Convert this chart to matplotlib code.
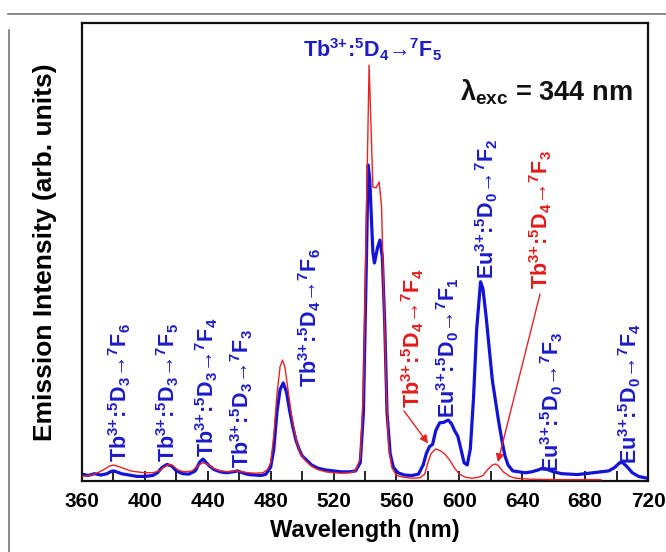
import matplotlib
matplotlib.use("Agg")
import matplotlib.pyplot as plt
from matplotlib.lines import Line2D

plt.rcParams['font.family'] = ['Liberation Sans', 'DejaVu Sans']
plt.rcParams['font.weight'] = 'bold'
plt.rcParams['mathtext.default'] = 'regular'

# ---- data (wavelength in nm, intensity in arbitrary units, 0..1 of frame) ----
blue_wl = [360, 364, 368, 372, 376, 378, 380, 382, 385, 390, 395, 400, 405, 408, 411, 414, 417,
           420, 424, 428, 432, 435, 437, 439, 441, 444, 448, 452, 456, 459, 462, 466, 470, 474,
           477, 480, 482, 484, 486, 488, 490, 492, 494, 496, 498, 500, 503, 506, 510, 515, 520,
           525, 530, 534, 537, 539, 541, 542, 543, 545, 546, 548, 549.5, 551, 552.5, 554, 556,
           558, 561, 565, 570, 574, 577, 579, 581, 583, 585, 587.5, 590, 593, 595, 597, 599,
           601, 603, 605, 607, 609, 611, 613.5, 615, 617, 619, 621, 623, 625, 627, 629, 631,
           634, 638, 642, 646, 650, 653, 656, 660, 665, 670, 675, 680, 685, 690, 695, 699, 702,
           704, 707, 710, 714, 718, 720]
blue_int = [0.015, 0.012, 0.016, 0.013, 0.016, 0.020, 0.022, 0.020, 0.016, 0.013, 0.010, 0.010,
            0.012, 0.018, 0.030, 0.036, 0.033, 0.022, 0.016, 0.015, 0.022, 0.042, 0.048, 0.040,
            0.033, 0.025, 0.020, 0.018, 0.020, 0.022, 0.018, 0.014, 0.013, 0.012, 0.015, 0.030,
            0.070, 0.150, 0.200, 0.214, 0.195, 0.155, 0.120, 0.090, 0.070, 0.055, 0.045, 0.035,
            0.028, 0.024, 0.022, 0.020, 0.020, 0.022, 0.040, 0.150, 0.500, 0.690, 0.660, 0.500,
            0.476, 0.510, 0.526, 0.490, 0.350, 0.150, 0.060, 0.030, 0.018, 0.013, 0.012, 0.015,
            0.035, 0.060, 0.075, 0.080, 0.110, 0.127, 0.128, 0.133, 0.125, 0.110, 0.098, 0.070,
            0.040, 0.035, 0.070, 0.180, 0.330, 0.435, 0.420, 0.360, 0.290, 0.220, 0.175, 0.130,
            0.090, 0.055, 0.035, 0.022, 0.020, 0.018, 0.020, 0.024, 0.028, 0.025, 0.020, 0.016,
            0.015, 0.014, 0.016, 0.018, 0.020, 0.022, 0.030, 0.040, 0.040, 0.030, 0.018, 0.010,
            0.007, 0.006]

red_wl = [360, 365, 370, 374, 377, 380, 383, 387, 391, 395, 400, 405, 409, 412, 415, 418, 421,
          425, 430, 434, 437, 440, 444, 448, 453, 458, 462, 466, 470, 475, 478, 480, 482, 484,
          486, 487.5, 489, 491, 493, 495, 497, 499, 502, 506, 510, 515, 520, 525, 530, 534, 537,
          539, 541, 542.6, 543.6, 545, 547, 549, 550.5, 552, 553.5, 555, 557, 560, 565, 570,
          575, 578, 580, 582, 585, 588, 591, 594, 597, 600, 604, 608, 612, 615, 618, 621, 623,
          625, 628, 632, 636, 645, 660, 675, 690]
red_int = [0.010, 0.012, 0.018, 0.025, 0.032, 0.035, 0.032, 0.027, 0.022, 0.020, 0.018, 0.018,
           0.022, 0.030, 0.036, 0.033, 0.024, 0.020, 0.022, 0.034, 0.040, 0.036, 0.027, 0.022,
           0.020, 0.022, 0.020, 0.018, 0.017, 0.018, 0.025, 0.040, 0.100, 0.190, 0.250, 0.264,
           0.250, 0.200, 0.150, 0.110, 0.080, 0.060, 0.045, 0.032, 0.025, 0.020, 0.018, 0.017,
           0.018, 0.022, 0.050, 0.200, 0.600, 0.908, 0.800, 0.642, 0.640, 0.653, 0.600, 0.400,
           0.200, 0.080, 0.030, 0.012, 0.008, 0.006, 0.007, 0.015, 0.040, 0.060, 0.070, 0.066,
           0.058, 0.045, 0.028, 0.015, 0.008, 0.006, 0.008, 0.012, 0.025, 0.035, 0.037, 0.033,
           0.020, 0.010, 0.006, 0.004, 0.003, 0.003, 0.003]

x_ticks = [360, 400, 440, 480, 520, 560, 600, 640, 680, 720]
x_label = "Wavelength (nm)"
y_label = "Emission Intensity (arb. units)"

BLUE = '#1212d8'
BLUE_T = '#1c1cc8'
RED = '#e82222'
RED_T = '#e41a1a'

fig = plt.figure(figsize=(6.66, 5.52), dpi=100)
ax = fig.add_axes([82/666, 1-481/552, 566/666, 458/552])

ax.plot(blue_wl, blue_int, color=BLUE, lw=2.3, zorder=2)
ax.plot(red_wl, red_int, color=RED, lw=1.0, zorder=3)

ax.set_xlim(360, 720)
ax.set_ylim(0, 1)
ax.set_xticks(x_ticks)
ax.set_xticks(range(380, 720, 40), minor=True)
ax.set_yticks([])
ax.tick_params(axis='x', which='both', direction='in', length=7, width=1.2,
               labelsize=15, pad=8)
for lab in ax.get_xticklabels():
    lab.set_fontweight('bold')
for s in ax.spines.values():
    s.set_linewidth(1.6)
    s.set_color('#111111')

ax.set_xlabel(x_label, fontsize=17, fontweight='bold', labelpad=6)
ax.set_ylabel(y_label, fontsize=19, fontweight='bold', labelpad=18)

fs = 15.5
def vlab(x, y, s, color):
    ax.text(x, y, s, rotation=90, ha='center', va='bottom', color=color,
            fontsize=fs, fontweight='bold', zorder=4)

vlab(384.2, 0.041, 'Tb$^{3{+}}$:$^{5}$D$_{3}$→$^{7}$F$_{6}$', BLUE_T)
vlab(414.7, 0.041, 'Tb$^{3{+}}$:$^{5}$D$_{3}$→$^{7}$F$_{5}$', BLUE_T)
vlab(439.5, 0.052, 'Tb$^{3{+}}$:$^{5}$D$_{3}$→$^{7}$F$_{4}$', BLUE_T)
vlab(461.8, 0.028, 'Tb$^{3{+}}$:$^{5}$D$_{3}$→$^{7}$F$_{3}$', BLUE_T)
vlab(505.0, 0.205, 'Tb$^{3{+}}$:$^{5}$D$_{4}$→$^{7}$F$_{6}$', BLUE_T)
vlab(570.6, 0.159, 'Tb$^{3{+}}$:$^{5}$D$_{4}$→$^{7}$F$_{4}$', RED_T)
vlab(592.8, 0.138, 'Eu$^{3{+}}$:$^{5}$D$_{0}$→$^{7}$F$_{1}$', BLUE_T)
vlab(617.6, 0.441, 'Eu$^{3{+}}$:$^{5}$D$_{0}$→$^{7}$F$_{2}$', BLUE_T)
vlab(652.0, 0.419, 'Tb$^{3{+}}$:$^{5}$D$_{4}$→$^{7}$F$_{3}$', RED_T)
vlab(659.0, 0.020, 'Eu$^{3{+}}$:$^{5}$D$_{0}$→$^{7}$F$_{3}$', BLUE_T)
vlab(708.6, 0.037, 'Eu$^{3{+}}$:$^{5}$D$_{0}$→$^{7}$F$_{4}$', BLUE_T)

ax.text(545.1, 0.941, 'Tb$^{3{+}}$:$^{5}$D$_{4}$→$^{7}$F$_{5}$', ha='center', va='center',
        color=BLUE_T, fontsize=fs, fontweight='bold')
ax.text(710, 0.849, r'$\lambda_{exc}$ = 344 nm', ha='right', va='center',
        color='#111111', fontsize=19.5, fontweight='bold')

arrow = dict(arrowstyle='-|>', color=RED, lw=1.0, mutation_scale=12, shrinkA=0, shrinkB=0)
ax.annotate('', xy=(580.1, 0.082), xytext=(564.8, 0.153), arrowprops=arrow)
ax.annotate('', xy=(624.5, 0.041), xytext=(651.3, 0.408), arrowprops=arrow)

# screenshot frame lines
fig.add_artist(Line2D([8/666, 1], [1-14/552, 1-14/552], color='#777777', lw=1.2))
fig.add_artist(Line2D([9/666, 9/666], [0, 1-30/552], color='#777777', lw=1.2))

fig.savefig('out.png', dpi=100)
